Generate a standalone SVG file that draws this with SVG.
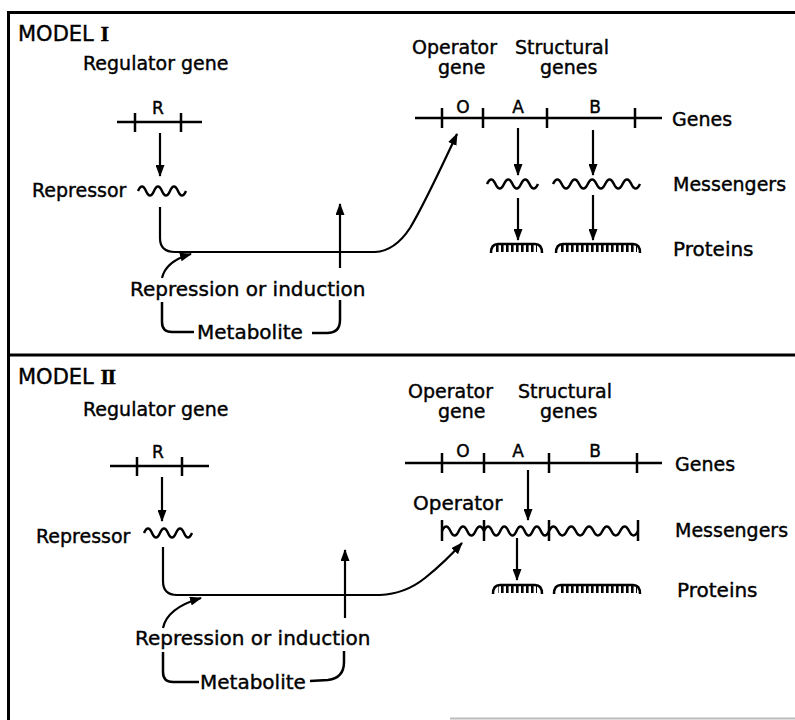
<svg xmlns="http://www.w3.org/2000/svg" width="795" height="720" viewBox="0 0 795 720">
<style>
text{font-family:"DejaVu Sans","Liberation Sans",sans-serif;fill:#000;stroke:#000;stroke-width:0.4;font-size:19px}
.lbl{font-size:20px}
.sm{font-size:19px}
.big{font-size:21px}
.let{font-size:17px;text-anchor:middle}
.rn{font-family:"Liberation Serif","DejaVu Serif",serif;font-weight:bold;font-size:22px}
.ln{fill:none;stroke:#000;stroke-width:2.5;stroke-linecap:butt;stroke-linejoin:round}
.wv{fill:none;stroke:#000;stroke-width:2.5}
.arr{fill:none;stroke:#000;stroke-width:2.2;marker-end:url(#ah)}
.frame{fill:none;stroke:#000;stroke-width:3}
.prot{fill:none;stroke:#000;stroke-width:2.5}
</style>
<defs>
<marker id="ah" viewBox="0 0 12 9" refX="11" refY="4.5" markerWidth="12" markerHeight="9" markerUnits="userSpaceOnUse" orient="auto">
<path d="M0,0 L12,4.5 L0,9 z" fill="#000"/>
</marker>
<pattern id="teeth" patternUnits="userSpaceOnUse" x="0" y="0" width="5" height="20">
<rect x="1" y="0" width="2.6" height="20" fill="#000"/>
</pattern>
</defs>
<rect width="795" height="720" fill="#fff"/>
<g id="frame">
<path class="frame" d="M8.5,720 V12.5 H795"/>
<path class="frame" d="M8,355 H795"/>
<path d="M450,718.5 H795" stroke="#bbb" stroke-width="2" fill="none"/>
</g>

<!-- MODEL I -->
<g id="m1-title"><text class="big" x="18" y="41">MODEL <tspan class="rn">I</tspan></text></g>
<g id="m1-regulator">
<text x="83" y="70">Regulator gene</text>
<path class="ln" d="M117,122 H202 M135,113 V132 M181,113 V132"/>
<text class="let" x="158" y="114">R</text>
</g>
<g id="m1-repressor">
<text x="32" y="197">Repressor</text>
<path class="wv" d="M138,191 q4,-9 8,0 t8,0 t8,0 t8,0 t8,0 t8,0"/>
</g>
<g id="m1-operon">
<text class="sm" x="412" y="54">Operator</text>
<text class="sm" x="515" y="54">Structural</text>
<text class="sm" x="438" y="74">gene</text>
<text class="sm" x="540" y="74">genes</text>
<path class="ln" d="M415,118 H662 M442,108 V128 M483,108 V128 M547,108 V128 M635,108 V128"/>
<text class="let" x="463" y="113">O</text>
<text class="let" x="518" y="113">A</text>
<text class="let" x="595" y="113">B</text>
<text x="672" y="126">Genes</text>
</g>
<g id="m1-messengers">
<path class="wv" d="M487,184 q4.25,-9 8.5,0 t8.5,0 t8.5,0 t8.5,0 t8.5,0 t8.5,0"/>
<path class="wv" d="M553,184 q4.35,-9 8.7,0 t8.7,0 t8.7,0 t8.7,0 t8.7,0 t8.7,0 t8.7,0 t8.7,0 t8.7,0 t8.7,0"/>
<text x="673" y="191">Messengers</text>
</g>
<g id="m1-proteins">
<path class="prot" d="M491,253 Q491,244 498,244 H535 Q542,244 542,253"/>
<rect x="496" y="244" width="41" height="8" fill="url(#teeth)"/>
<path class="prot" d="M556,253 Q556,244 563,244 H633 Q640,244 640,253"/>
<rect x="561" y="244" width="76" height="8" fill="url(#teeth)"/>
<text class="lbl" x="673" y="256">Proteins</text>
</g>
<g id="m1-metabolite">
<text class="lbl" x="130" y="296">Repression or induction</text>
<text class="lbl" x="197" y="339">Metabolite</text>
</g>
<g id="m1-connectors">
<path class="arr" d="M160,133 V176"/>
<path class="arr" d="M160,207 V238 Q160,252 175,252 H375 Q395,251 410,228 C424,205 441,168 457,134"/>
<path class="arr" d="M340,268 V204"/>
<path class="arr" d="M162,278 Q166,261 191,254"/>
<path class="ln" d="M162,302 V322 Q162,332 172,332 H194"/>
<path class="ln" d="M312,333 H327 Q340,333 340,320 V300"/>
<path class="arr" d="M518,128 V175"/>
<path class="arr" d="M593,130 V175"/>
<path class="arr" d="M518,198 V240"/>
<path class="arr" d="M593,195 V240"/>
</g>

<!-- MODEL II -->
<g id="m2-title"><text class="big" x="18" y="384">MODEL <tspan class="rn" letter-spacing="-1.5">II</tspan></text></g>
<g id="m2-regulator">
<text x="83" y="416">Regulator gene</text>
<path class="ln" d="M110,466 H209 M137,457 V476 M182,457 V476"/>
<text class="let" x="158" y="458">R</text>
</g>
<g id="m2-repressor">
<text x="36" y="543">Repressor</text>
<path class="wv" d="M144,533 q4,-9 8,0 t8,0 t8,0 t8,0 t8,0 t8,0"/>
</g>
<g id="m2-operon">
<text class="sm" x="408" y="398">Operator</text>
<text class="sm" x="518" y="398">Structural</text>
<text class="sm" x="438" y="418">gene</text>
<text class="sm" x="540" y="418">genes</text>
<path class="ln" d="M405,463 H662 M442,453 V473 M484,453 V473 M549,453 V473 M637,453 V473"/>
<text class="let" x="463" y="457">O</text>
<text class="let" x="518" y="457">A</text>
<text class="let" x="595" y="457">B</text>
<text x="675" y="471">Genes</text>
</g>
<g id="m2-messengers">
<text class="lbl" x="413" y="510">Operator</text>
<path class="wv" d="M442,531 q4.2,-9 8.4,0 t8.4,0 t8.4,0 t8.4,0 t8.4,0"/>
<path class="wv" d="M484,531 q4.06,-9 8.125,0 t8.125,0 t8.125,0 t8.125,0 t8.125,0 t8.125,0 t8.125,0 t8.125,0"/>
<path class="wv" d="M549,531 q4.45,-9 8.9,0 t8.9,0 t8.9,0 t8.9,0 t8.9,0 t8.9,0 t8.9,0 t8.9,0 t8.9,0 t8.9,0"/>
<path class="ln" d="M442,520 V541 M484,520 V541 M549,520 V541 M638,520 V541"/>
<text x="675" y="537">Messengers</text>
</g>
<g id="m2-proteins">
<path class="prot" d="M493,594 Q493,585 500,585 H535 Q542,585 542,594"/>
<rect x="498" y="585" width="39" height="8" fill="url(#teeth)"/>
<path class="prot" d="M554,594 Q554,585 561,585 H633 Q640,585 640,594"/>
<rect x="559" y="585" width="78" height="8" fill="url(#teeth)"/>
<text class="lbl" x="677" y="597">Proteins</text>
</g>
<g id="m2-metabolite">
<text class="lbl" x="135" y="645">Repression or induction</text>
<text class="lbl" x="200" y="689">Metabolite</text>
</g>
<g id="m2-connectors">
<path class="arr" d="M162,477 V521"/>
<path class="arr" d="M163,547 V581 Q163,595 177,595 H380 Q405,594 425,578 Q445,562 462,543"/>
<path class="arr" d="M345,618 V550"/>
<path class="arr" d="M163,628 Q167,608 201,598"/>
<path class="ln" d="M163,652 V672 Q163,682 173,682 H199"/>
<path class="ln" d="M310,681 L328,680 Q344,678 344,662 V651"/>
<path class="arr" d="M528,470 V520"/>
<path class="arr" d="M517,538 V580"/>
</g>
</svg>
